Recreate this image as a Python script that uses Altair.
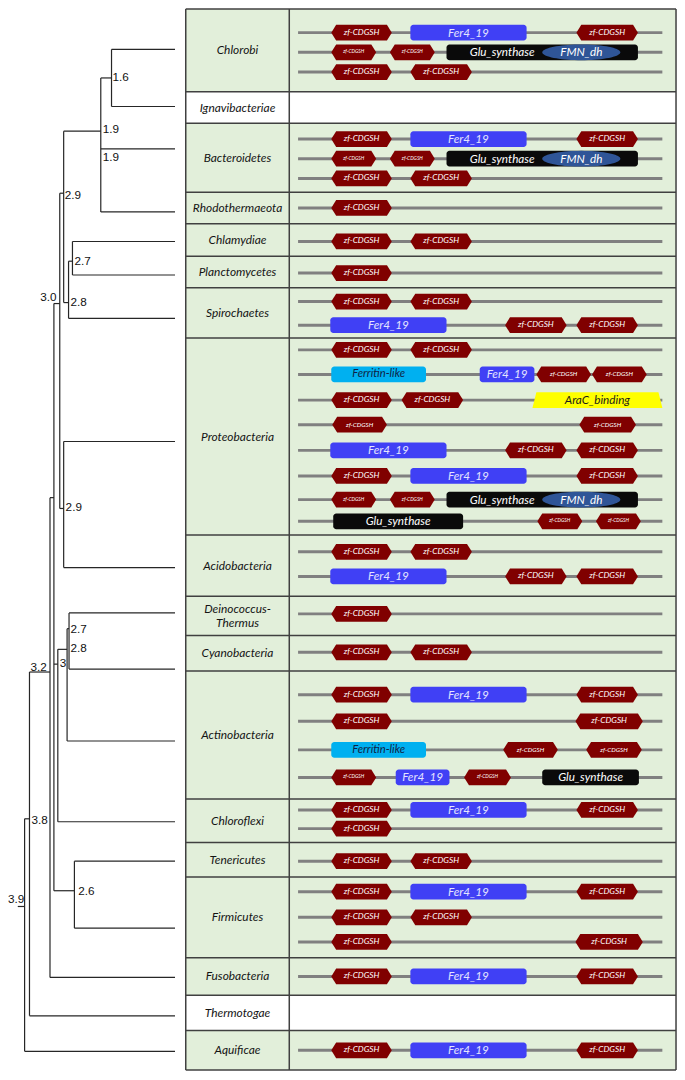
import altair as alt
import numpy as np
import pandas as pd

# ---------------- data ----------------
phyla = ["Chlorobi", "Ignavibacteriae", "Bacteroidetes", "Rhodothermaeota", "Chlamydiae",
         "Planctomycetes", "Spirochaetes", "Proteobacteria", "Acidobacteria",
         "Deinococcus-\nThermus", "Cyanobacteria", "Actinobacteria", "Chloroflexi",
         "Tenericutes", "Firmicutes", "Fusobacteria", "Thermotogae", "Aquificae"]
row_edges = [1, 85, 117, 187, 219, 252, 284, 335, 535, 597, 637, 673, 803, 847, 882,
             964, 1002, 1038, 1078]
empty_rows = ["Ignavibacteriae", "Thermotogae"]

# tree: leaves
leaf_y = [42, 100, 143, 207, 237, 271, 315, 440, 568, 614, 671, 744, 826, 866, 934,
          984, 1023, 1059]
leaf_node_x = [106, 106, 95, 95, 66, 66, 62, 57, 57, 62.5, 62.5, 60.5, 51, 68, 68,
               43, 22, 17]
leaf_end_x = 171
# tree: internal nodes
node_x = [106, 95, 66, 62, 57, 57, 53, 62.5, 60.5, 51, 68, 47, 43, 22, 17]
node_top = [42, 71, 237, 257, 125, 440, 188, 614, 630, 651, 866, 300, 497, 674, 823]
node_bot = [100, 207, 271, 315, 299, 568, 508, 671, 744, 826, 934, 896, 984, 1023, 1059]
node_stem_y = [71, 125, 257, 299, 188, 508, 300, 630, 651, 666, 896, 497, 674, 823, 912]
node_parent_x = [95, 57, 62, 57, 53, 53, 47, 60.5, 51, 47, 47, 43, 22, 17, 10]
# tree: support values
support_text = ["1.6", "1.9", "1.9", "2.9", "2.7", "3.0", "2.8", "2.9", "2.7", "2.8",
                "3", "3.2", "3.8", "2.6", "3.9"]
support_x = [107, 97, 97, 58, 68, 33, 64, 59, 64, 64, 53, 23, 24, 72, 0]
support_y = [70, 123, 151, 190, 257, 293, 298, 507, 630, 650, 665, 669, 824, 896, 904]

# domain architectures (centre line, [(domain, start, end), ...])
arch_y = [25, 45, 65, 133, 153, 173, 203, 237, 269, 298, 322, 347, 372, 398, 423, 449,
          475, 499, 521, 552, 577, 615, 654, 697, 724, 753, 781, 814, 833, 866, 897,
          923, 948, 983, 1058]
arch_domains = [
    [("zf", 331, 393), ("fer4", 412, 531), ("zf", 582, 645)],
    [("zfs", 331, 377), ("zfs", 391, 437), ("glu", 449, 645), ("fmn", 547, 627)],
    [("zf", 331, 393), ("zf", 412, 475)],
    [("zf", 331, 393), ("fer4", 412, 531), ("zf", 582, 645)],
    [("zfs", 331, 377), ("zfs", 391, 437), ("glu", 449, 645), ("fmn", 547, 627)],
    [("zf", 331, 393), ("zf", 412, 475)],
    [("zf", 331, 393)],
    [("zf", 331, 393), ("zf", 412, 475)],
    [("zf", 331, 393)],
    [("zf", 331, 393), ("zf", 412, 475)],
    [("fer4", 330, 449), ("zf", 509, 572), ("zf", 582, 645)],
    [("zf", 331, 393), ("zf", 412, 475)],
    [("ferritin", 331, 428), ("fer4", 483, 539), ("zfm", 541, 597), ("zfm", 598, 654)],
    [("zf", 331, 393), ("zf", 403, 466), ("arac", 537, 670)],
    [("zfm", 332, 388), ("zfm", 585, 643)],
    [("fer4", 330, 449), ("zf", 509, 572), ("zf", 582, 645)],
    [("zf", 331, 393), ("fer4", 412, 531), ("zf", 582, 645)],
    [("zfs", 331, 377), ("zfs", 391, 437), ("glu", 449, 645), ("fmn", 547, 627)],
    [("glu", 333, 466), ("zfs", 542, 588), ("zfs", 602, 648)],
    [("zf", 331, 393), ("zf", 412, 475)],
    [("fer4", 330, 449), ("zf", 509, 572), ("zf", 582, 645)],
    [("zf", 331, 393)],
    [("zf", 331, 393), ("zf", 412, 475)],
    [("zf", 331, 393), ("fer4", 412, 531), ("zf", 582, 645)],
    [("zf", 331, 393), ("zf", 581, 650)],
    [("ferritin", 331, 428), ("zfm", 507, 563), ("zfm", 592, 649)],
    [("zfs", 331, 377), ("fer4", 397, 452), ("zfs", 467, 515), ("glu", 547, 646)],
    [("zf", 331, 393), ("fer4", 412, 531), ("zf", 582, 645)],
    [("zf", 331, 393)],
    [("zf", 331, 393), ("zf", 412, 475)],
    [("zf", 331, 393), ("fer4", 412, 531), ("zf", 582, 645)],
    [("zf", 331, 393), ("zf", 412, 475)],
    [("zf", 331, 393), ("zf", 581, 650)],
    [("zf", 331, 393), ("fer4", 412, 531), ("zf", 582, 645)],
    [("zf", 331, 393), ("fer4", 412, 531), ("zf", 582, 645)],
]
domain_label = {"zf": "zf-CDGSH", "zfm": "zf-CDGSH", "zfs": "zf-CDGSH", "fer4": "Fer4_19",
                "ferritin": "Ferritin-like", "glu": "Glu_synthase", "fmn": "FMN_dh",
                "arac": "AraC_binding"}

# ---------------- styles ----------------
W, H = 669, 1064
REF_W, REF_H = 685, 1080
KX, KY = W / REF_W, H / REF_H
TABLE_L, TABLE_DIV, TABLE_R = 182, 288, 684
BACK_L, BACK_R = 297, 670
HALF, TIP = 8, 5
GREEN = "#E2EFDA"
fill_col = {"zf": "#800000", "zfm": "#800000", "zfs": "#800000", "fer4": "#4040F5",
            "ferritin": "#00B0F0", "glu": "#0A0A0A", "fmn": "#2F5597", "arac": "#FFFF00"}
text_col = {"zf": "#FFFFFF", "zfm": "#FFFFFF", "zfs": "#FFFFFF", "fer4": "#E4E4FF",
            "ferritin": "#0F1F45", "glu": "#FFFFFF", "fmn": "#FFFFFF", "arac": "#1A1A1A"}
text_size = {"zf": 8.5, "zfm": 6.5, "zfs": 5, "fer4": 12, "ferritin": 11.5,
             "glu": 12, "fmn": 12, "arac": 12}

xsc = alt.Scale(domain=[0, REF_W], nice=False, zero=False)
ysc = alt.Scale(domain=[0, REF_H], reverse=True, nice=False, zero=False)


def X(f):
    return alt.X(f, type="quantitative", scale=xsc, axis=None)


def Y(f):
    return alt.Y(f, type="quantitative", scale=ysc, axis=None)


# symbol unit: 1 path unit == HALF reference px vertically
UNIT = HALF * KY
SYM_SIZE = (2 * UNIT) ** 2


def fmt(v):
    return f"{v:.4f}"


def poly_path(pts):
    return "M" + "L".join(f"{fmt(px)},{fmt(py)}" for px, py in pts) + "Z"


# ---------------- tables ----------------
bg = pd.DataFrame({
    "x": TABLE_L, "x2": TABLE_R,
    "y": row_edges[:-1], "y2": row_edges[1:],
    "c": [("#FFFFFF" if p in empty_rows else GREEN) for p in phyla],
})

grid = []
for e in row_edges:
    grid.append({"x": TABLE_L, "x2": TABLE_R, "y": e, "y2": e})
for vx in (TABLE_L, TABLE_DIV, TABLE_R):
    grid.append({"x": vx, "x2": vx, "y": row_edges[0], "y2": row_edges[-1]})
grid = pd.DataFrame(grid)

names = pd.DataFrame({
    "x": (TABLE_L + TABLE_DIV) / 2,
    "y": [(a + b) / 2 for a, b in zip(row_edges[:-1], row_edges[1:])],
    "t": phyla,
})
names.loc[names.t.str.contains("\n"), "y"] -= 7

backbone = pd.DataFrame({"x": BACK_L, "x2": BACK_R, "y": arch_y})

syms, rects, texts = [], [], []
for yc, doms in zip(arch_y, arch_domains):
    fmn = [d for d in doms if d[0] == "fmn"]
    for kind, a, b in doms:
        col = fill_col[kind]
        cx = (a + b) / 2
        hw = (b - a) / 2 * KX / UNIT       # half width in path units
        tip = TIP * KX / UNIT
        path = None
        if kind.startswith("zf"):
            path = poly_path([(-hw, 0), (-hw + tip, -1), (hw - tip, -1), (hw, 0),
                              (hw - tip, 1), (-hw + tip, 1)])
        elif kind == "arac":
            t2 = 4 * KX / UNIT
            path = poly_path([(-hw, 1), (-hw + t2, -1), (hw - t2, -1), (hw, 1)])
        elif kind == "fmn":
            ang = np.linspace(0, 2 * np.pi, 73)[:-1]
            path = poly_path([(hw * np.cos(t), np.sin(t)) for t in ang])
        else:
            rects.append({"x": a, "x2": b, "y": yc - HALF, "y2": yc + HALF, "c": col})
        if path is not None:
            syms.append({"x": cx, "y": yc, "p": path, "c": col, "s": SYM_SIZE})
        tx = cx
        if kind == "glu" and fmn:
            tx = (a + fmn[0][1]) / 2 + 8
        texts.append({"x": tx, "y": yc, "t": domain_label[kind], "c": text_col[kind],
                      "s": text_size[kind] * KX})

syms = pd.DataFrame(syms)
rects = pd.DataFrame(rects)
texts = pd.DataFrame(texts)

# ---------------- tree ----------------
segs = []
for lx, ly in zip(leaf_node_x, leaf_y):
    segs.append({"x": lx, "x2": leaf_end_x, "y": ly, "y2": ly})
for nx, nt, nb, sy, px in zip(node_x, node_top, node_bot, node_stem_y, node_parent_x):
    segs.append({"x": nx, "x2": nx, "y": nt, "y2": nb})
    segs.append({"x": px, "x2": nx, "y": sy, "y2": sy})
segs = pd.DataFrame(segs)
support = pd.DataFrame({"x": support_x, "y": support_y, "t": support_text})

# ---------------- layers ----------------
L_bg = alt.Chart(bg).mark_rect(strokeWidth=0).encode(
    x=X("x"), x2="x2", y=Y("y"), y2="y2", color=alt.Color("c:N", scale=None))
L_back = alt.Chart(backbone).mark_rule(color="#808080", strokeWidth=3 * KX).encode(
    x=X("x"), x2="x2", y=Y("y"))
L_rect = alt.Chart(rects).mark_rect(cornerRadius=3).encode(
    x=X("x"), x2="x2", y=Y("y"), y2="y2", color=alt.Color("c:N", scale=None))
L_sym = alt.Chart(syms).mark_point(filled=True, opacity=1, strokeWidth=0).encode(
    x=X("x"), y=Y("y"),
    shape=alt.Shape("p:N", scale=None),
    size=alt.Size("s:Q", scale=None),
    color=alt.Color("c:N", scale=None))
L_text = alt.Chart(texts).mark_text(
    font="Lato", fontStyle="italic", align="center", baseline="middle").encode(
    x=X("x"), y=Y("y"), text="t:N", color=alt.Color("c:N", scale=None),
    size=alt.Size("s:Q", scale=None))
L_grid = alt.Chart(grid).mark_rule(color="#404040", strokeWidth=1.5).encode(
    x=X("x"), x2="x2", y=Y("y"), y2="y2")
L_names = alt.Chart(names).mark_text(
    font="Lato", fontStyle="italic", fontSize=12.2 * KX, color="#141414",
    align="center", baseline="middle", lineBreak="\n", lineHeight=14).encode(
    x=X("x"), y=Y("y"), text="t:N")
L_tree = alt.Chart(segs).mark_rule(color="#262626", strokeWidth=1.2).encode(
    x=X("x"), x2="x2", y=Y("y"), y2="y2")
L_sup = alt.Chart(support).mark_text(
    font="Liberation Sans", fontSize=12 * KX, color="#111111",
    align="left", baseline="middle").encode(x=X("x"), y=Y("y"), text="t:N")

chart = alt.layer(L_bg, L_back, L_rect, L_sym, L_text, L_grid, L_names, L_tree, L_sup
                  ).properties(
    width=W, height=H, padding=0,
    autosize=alt.AutoSizeParams(type="fit", contains="padding"),
).configure_view(strokeWidth=0)

chart.save("out.html", embed_options={"renderer": "svg", "actions": False})
